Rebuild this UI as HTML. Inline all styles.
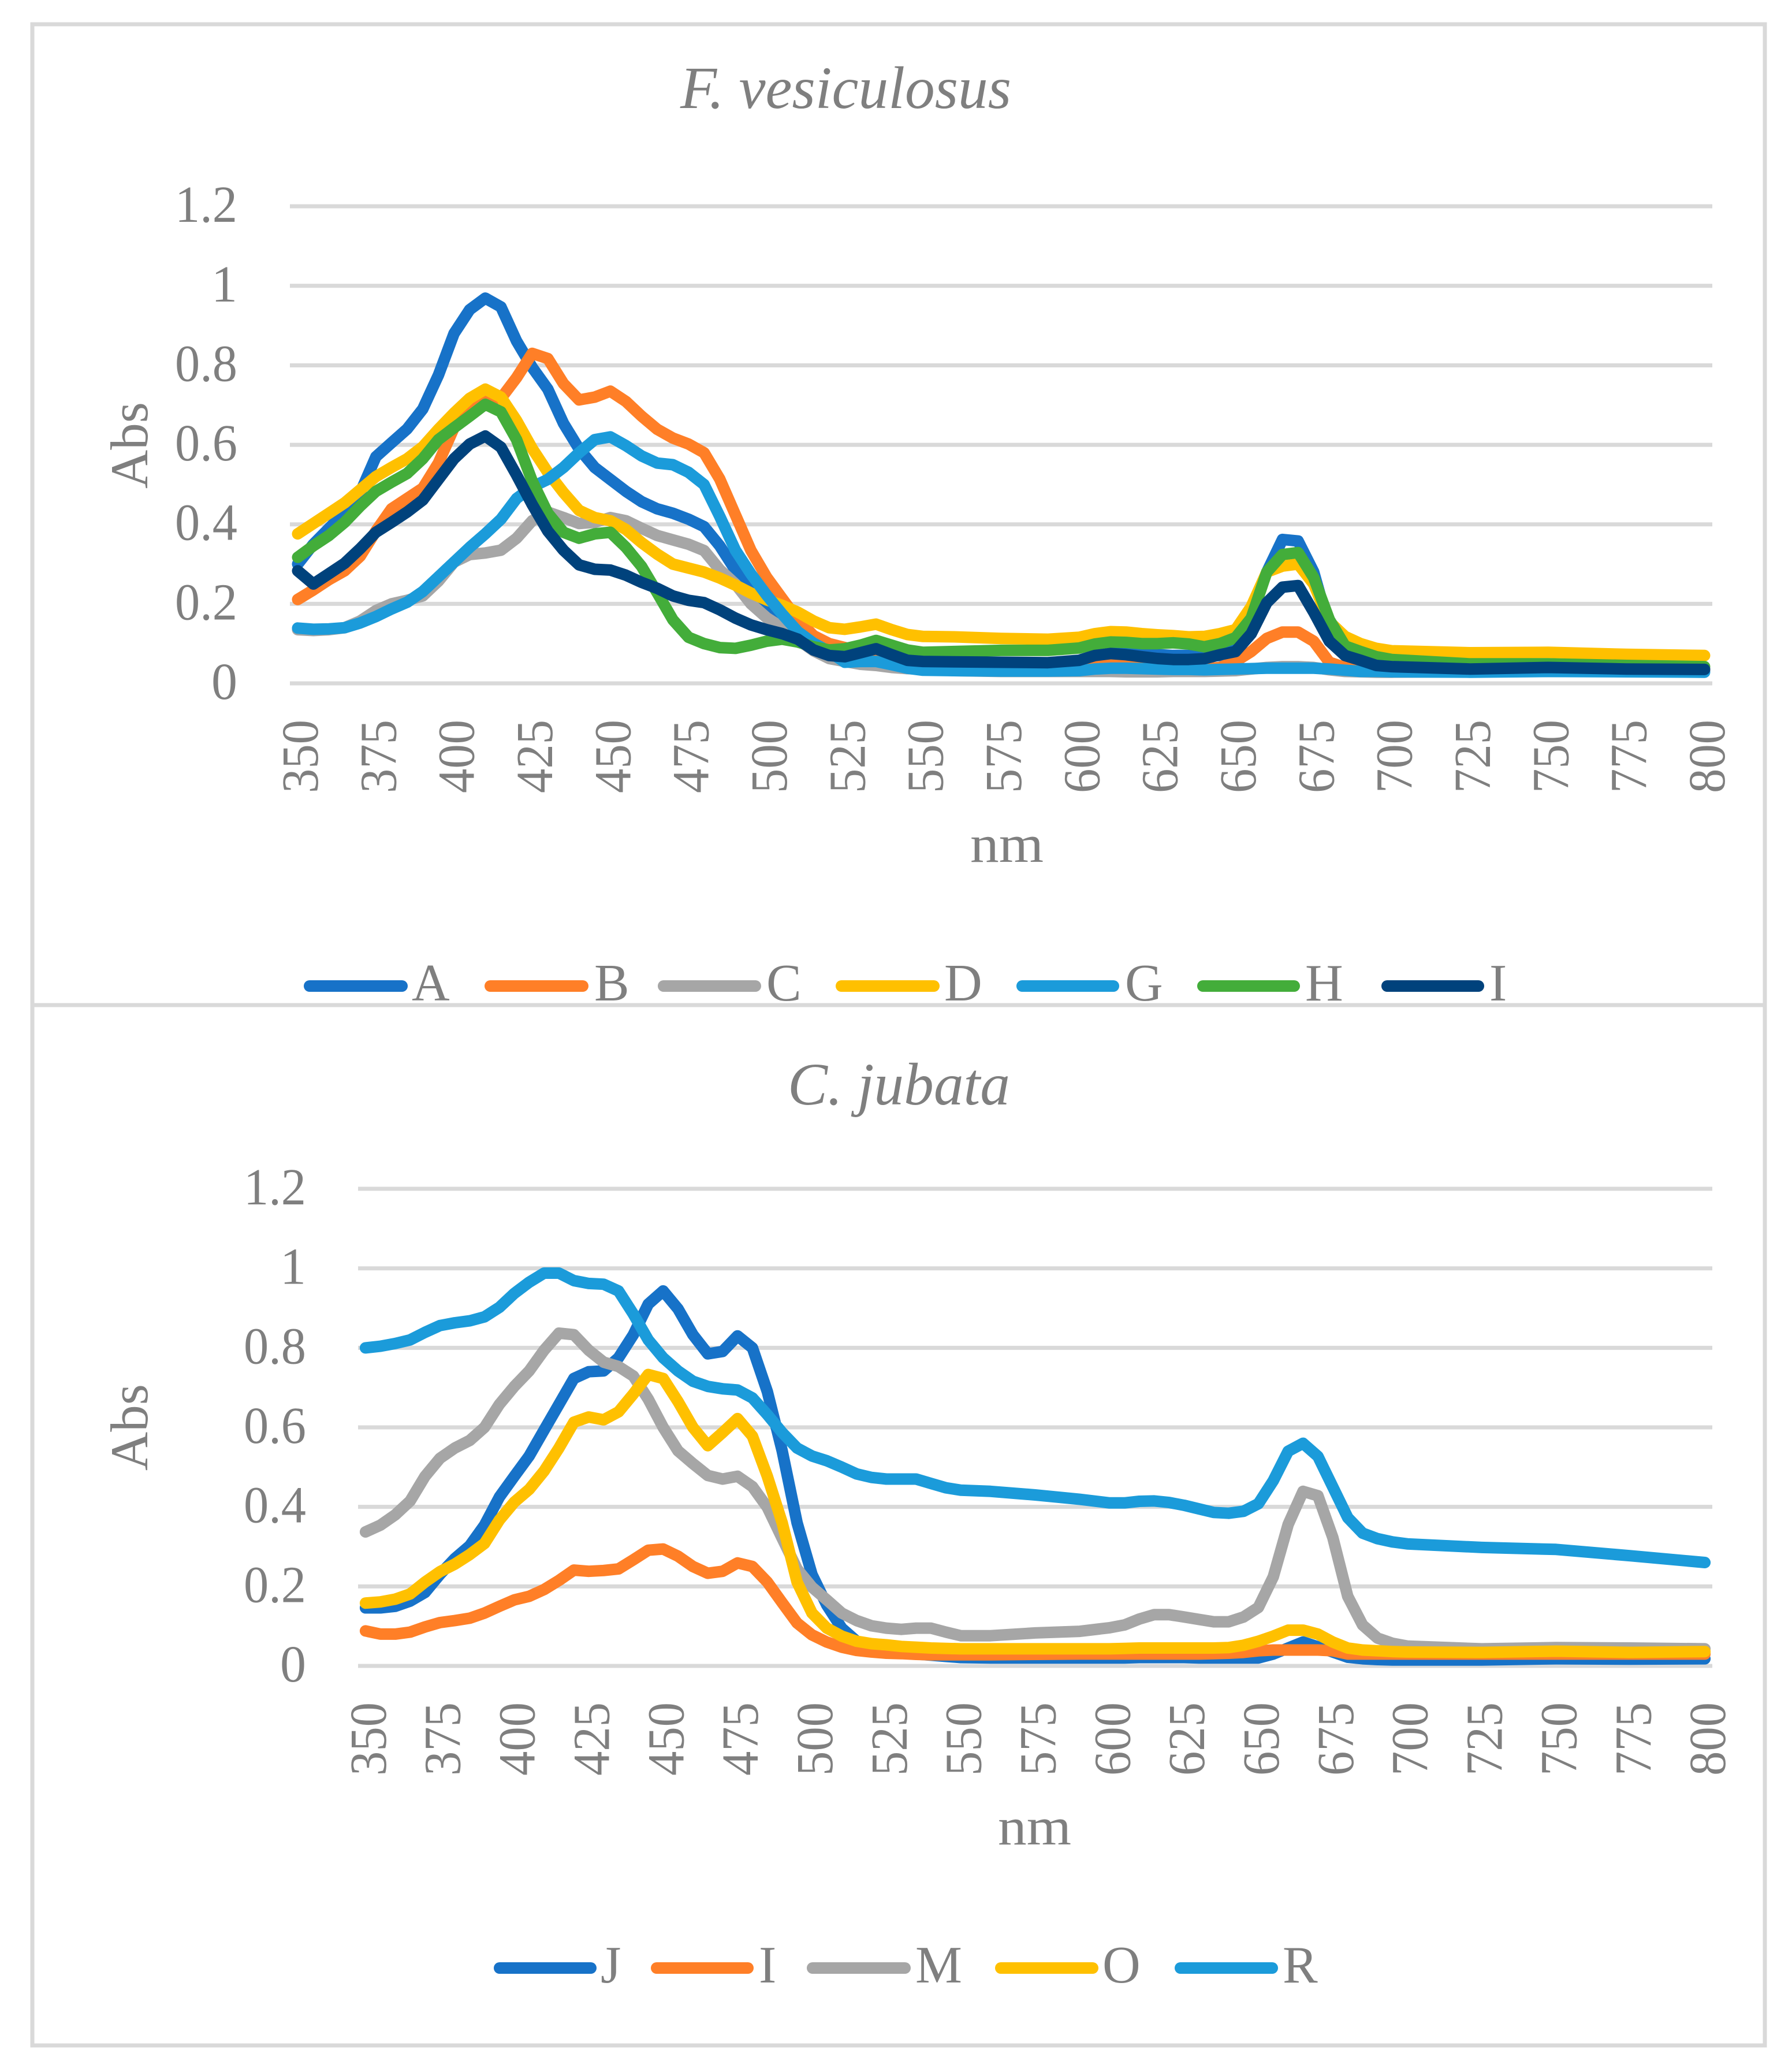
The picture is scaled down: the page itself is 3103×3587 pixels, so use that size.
<!DOCTYPE html>
<html>
<head>
<meta charset="utf-8">
<title>F. vesiculosus and C. jubata absorbance spectra</title>
<style>
html,body{margin:0;padding:0;background:#fff;}
svg{display:block;}
text{font-family:"Liberation Serif",serif;fill:#7f7f7f;}
</style>
</head>
<body>
<svg id="figure" xmlns="http://www.w3.org/2000/svg" width="3103" height="3587" viewBox="0 0 3103 3587">
  <rect x="0" y="0" width="3103" height="3587" fill="#ffffff"/>
  <rect x="56" y="42" width="3000" height="3499" fill="none" stroke="#d9d9d9" stroke-width="7"/>
  <line x1="56" y1="1740" x2="3056" y2="1740" stroke="#d9d9d9" stroke-width="7"/>
  <text x="1178" y="187" font-size="104" font-style="italic" textLength="573" lengthAdjust="spacingAndGlyphs">F. vesiculosus</text>
  <text x="1364" y="1912" font-size="104" font-style="italic" textLength="385" lengthAdjust="spacingAndGlyphs">C. jubata</text>
  <text x="1680" y="1492" font-size="92" textLength="127" lengthAdjust="spacingAndGlyphs">nm</text>
  <text x="1728" y="3193" font-size="92" textLength="127" lengthAdjust="spacingAndGlyphs">nm</text>
  <text transform="translate(255,846) rotate(-90)" font-size="92" textLength="150" lengthAdjust="spacingAndGlyphs">Abs</text>
  <text transform="translate(255,2546) rotate(-90)" font-size="92" textLength="150" lengthAdjust="spacingAndGlyphs">Abs</text>
  <g id="top-chart"></g>
  <g id="bottom-chart"></g>
</svg>
<script>
var wavelengths = [350,355,360,365,370,375,380,385,390,395,400,405,410,415,420,425,430,435,440,445,450,455,460,465,470,475,480,485,490,495,500,505,510,515,520,525,530,535,540,545,550,560,575,590,600,605,610,615,620,625,630,635,640,645,650,655,660,665,670,675,680,685,690,695,700,725,750,775,800];
var xTickLabels = [350,375,400,425,450,475,500,525,550,575,600,625,650,675,700,725,750,775,800];
var yTickValues = [0,0.2,0.4,0.6,0.8,1,1.2];
var yTickLabels = ['0','0.2','0.4','0.6','0.8','1','1.2'];

var seriesA = [.30,.35,.39,.43,.48,.57,.605,.64,.69,.775,.88,.94,.969,.947,.861,.795,.74,.654,.59,.543,.513,.483,.457,.439,.428,.413,.394,.346,.285,.242,.2,.165,.125,.1,.085,.075,.07,.075,.065,.06,.055,.053,.05,.05,.055,.065,.075,.075,.072,.072,.07,.07,.068,.07,.1,.186,.28,.362,.358,.28,.14,.07,.052,.045,.04,.036,.04,.036,.035];
var seriesB = [.211,.235,.261,.283,.32,.383,.439,.465,.491,.554,.643,.695,.717,.717,.769,.83,.817,.754,.713,.72,.735,.709,.672,.639,.617,.602,.58,.514,.424,.334,.267,.213,.16,.12,.1,.09,.08,.08,.065,.058,.055,.052,.05,.05,.04,.044,.048,.045,.04,.038,.037,.037,.036,.04,.055,.08,.113,.129,.129,.106,.053,.04,.038,.036,.036,.034,.036,.034,.034];
var seriesC = [.135,.133,.135,.14,.157,.183,.2,.209,.22,.257,.305,.324,.328,.335,.365,.409,.431,.417,.402,.405,.417,.409,.39,.372,.361,.35,.334,.286,.25,.2,.165,.14,.11,.082,.0625,.055,.048,.045,.04,.037,.036,.032,.03,.03,.03,.03,.03,.029,.029,.029,.03,.03,.03,.031,.032,.036,.04,.042,.042,.04,.034,.03,.029,.028,.028,.029,.03,.03,.031];
var seriesD = [.376,.402,.428,.454,.487,.52,.543,.565,.595,.639,.68,.717,.74,.72,.661,.591,.531,.48,.435,.417,.409,.387,.354,.325,.30,.29,.28,.265,.247,.227,.21,.196,.179,.157,.14,.136,.142,.149,.135,.123,.118,.117,.113,.111,.116,.125,.13,.129,.125,.122,.12,.117,.118,.125,.135,.193,.28,.295,.30,.25,.155,.118,.10,.088,.082,.077,.078,.073,.07];
var seriesG = [.139,.136,.137,.14,.152,.168,.187,.204,.231,.268,.305,.342,.376,.413,.465,.494,.513,.543,.58,.613,.62,.598,.572,.554,.55,.531,.50,.42,.335,.275,.222,.174,.13,.101,.08,.053,.055,.055,.047,.038,.033,.032,.031,.031,.032,.036,.038,.038,.037,.036,.035,.035,.034,.035,.036,.037,.038,.038,.038,.038,.036,.033,.03,.03,.029,.028,.03,.029,.028];
var seriesH = [.317,.346,.372,.405,.446,.483,.506,.528,.565,.613,.643,.672,.702,.683,.613,.509,.428,.38,.365,.376,.38,.342,.294,.228,.16,.116,.1,.09,.088,.096,.106,.111,.104,.092,.084,.087,.096,.108,.096,.084,.078,.08,.083,.083,.089,.099,.104,.103,.1,.1,.102,.099,.092,.10,.115,.164,.28,.324,.329,.266,.16,.094,.08,.067,.06,.049,.049,.045,.042];
var seriesI = [.283,.25,.276,.302,.339,.38,.405,.431,.461,.513,.565,.602,.622,.594,.524,.45,.383,.335,.298,.287,.285,.272,.254,.239,.22,.209,.203,.185,.164,.147,.135,.125,.111,.084,.07,.067,.077,.087,.072,.058,.055,.054,.053,.052,.058,.07,.075,.072,.067,.0625,.06,.06,.062,.072,.08,.125,.203,.242,.246,.179,.106,.07,.058,.045,.042,.036,.04,.036,.035];

var seriesJ = [.146,.146,.15,.163,.185,.23,.27,.302,.354,.425,.477,.528,.593,.658,.723,.74,.742,.775,.833,.91,.943,.898,.833,.785,.791,.83,.80,.69,.541,.36,.23,.153,.095,.062,.043,.036,.032,.03,.027,.024,.021,.02,.02,.02,.02,.02,.021,.021,.021,.021,.02,.02,.02,.02,.02,.03,.045,.06,.048,.035,.022,.018,.016,.015,.015,.015,.018,.017,.018];
var seriesL = [.088,.08,.08,.085,.098,.109,.114,.12,.133,.15,.166,.175,.192,.215,.241,.238,.24,.244,.267,.291,.294,.276,.25,.233,.238,.259,.25,.211,.159,.108,.078,.06,.047,.039,.035,.032,.031,.029,.028,.028,.028,.028,.029,.03,.03,.03,.03,.03,.03,.03,.03,.031,.032,.034,.038,.04,.04,.04,.04,.038,.03,.03,.03,.03,.03,.03,.03,.03,.03];
var seriesM = [.337,.354,.38,.415,.477,.522,.548,.567,.6,.658,.703,.742,.794,.837,.833,.794,.764,.753,.729,.671,.6,.541,.509,.479,.47,.477,.451,.399,.321,.244,.198,.166,.133,.114,.101,.095,.092,.095,.095,.085,.076,.076,.083,.087,.096,.103,.118,.129,.129,.123,.117,.111,.111,.123,.147,.224,.356,.439,.428,.323,.175,.103,.07,.057,.05,.043,.046,.045,.043];
var seriesO = [.158,.161,.168,.181,.211,.237,.256,.28,.308,.367,.412,.444,.49,.548,.613,.626,.619,.639,.684,.733,.723,.665,.6,.554,.587,.622,.578,.477,.36,.211,.133,.095,.075,.062,.056,.053,.049,.047,.045,.044,.043,.043,.043,.043,.043,.044,.045,.045,.045,.045,.045,.045,.046,.052,.062,.075,.09,.09,.08,.06,.045,.04,.038,.036,.035,.034,.037,.034,.036];
var seriesR = [.8,.804,.811,.82,.839,.856,.863,.868,.878,.902,.937,.965,.988,.988,.969,.962,.96,.943,.885,.82,.775,.742,.716,.703,.697,.694,.674,.632,.587,.548,.528,.516,.5,.483,.474,.47,.47,.47,.459,.448,.442,.439,.43,.419,.41,.41,.414,.415,.411,.404,.395,.386,.384,.389,.408,.466,.54,.56,.527,.45,.373,.334,.32,.312,.307,.298,.293,.277,.26];

var topNames = ['A','B','C','D','G','H','I'];
var bottomNames = ['J','I','M','O','R'];
var topSeries = [seriesA,seriesB,seriesC,seriesD,seriesG,seriesH,seriesI];
var bottomSeries = [seriesJ,seriesL,seriesM,seriesO,seriesR];

var NS = 'http://www.w3.org/2000/svg';
function mk(parent, tag, attrs, txt){
  var el = document.createElementNS(NS, tag);
  for (var k in attrs) el.setAttribute(k, attrs[k]);
  if (txt !== undefined) el.textContent = txt;
  parent.appendChild(el);
  return el;
}
function drawChart(host, cfg, names, series){
  var plotW = cfg.right - cfg.left;
  var step = plotW / 91;
  function xScale(nm){ return cfg.left + step/2 + (nm-350)/5*step; }
  function yScale(v){ return cfg.zero - v*cfg.unit; }

  yTickValues.forEach(function(v,i){
    var g = mk(host,'line',{x1:cfg.left,x2:cfg.right,y1:yScale(v),y2:yScale(v),stroke:'#d9d9d9','stroke-width':7});
    
    
    var attrs = {x:cfg.yLabelX,y:yScale(v)+27,'font-size':90,'text-anchor':'end'};
    if (yTickLabels[i].length > 1) { attrs.textLength = 108; attrs.lengthAdjust = 'spacingAndGlyphs'; }
    var t = mk(host,'text',attrs,yTickLabels[i]);
    
    
  });
  xTickLabels.forEach(function(nm){
    var bx = xScale(nm)+cfg.xLabelOff;
    var t = mk(host,'text',{transform:'translate('+bx+','+cfg.xLabelTop+') rotate(-90)','font-size':90,'text-anchor':'end',textLength:127,lengthAdjust:'spacingAndGlyphs'},String(nm));
    
    
  });
  series.forEach(function(vals,i){
    var pts = vals.map(function(v,j){ return xScale(wavelengths[j]).toFixed(1)+','+yScale(v).toFixed(1); }).join(' ');
    var p = mk(host,'polyline',{points:pts,fill:'none',stroke:cfg.colors[i],'stroke-width':20,'stroke-linejoin':'round','stroke-linecap':'round'});
    
    
  });
  names.forEach(function(n,i){
    var L = cfg.legendLines[i];
    var l = mk(host,'line',{x1:L[0]+10,x2:L[1]-10,y1:cfg.legendY,y2:cfg.legendY,stroke:cfg.colors[i],'stroke-width':20,'stroke-linecap':'round'});
    
    
    var t = mk(host,'text',{x:L[2],y:cfg.legendY+25,'font-size':91},n);
    
    
  });
}
var topColors = ['#1772c8','#ff7f27','#a6a6a6','#ffc000','#1b9bda','#43ad3a','#00427c'];
var bottomColors = ['#1772c8','#ff7f27','#a6a6a6','#ffc000','#1b9bda'];
drawChart(document.getElementById('top-chart'),{
  left:502,right:2965,zero:1183,unit:688.2,yLabelX:411,xLabelOff:34.5,xLabelTop:1246,colors:topColors,legendY:1707,
  legendLines:[[526,706,713],[839,1019,1029],[1139,1318,1327],[1447,1627,1635],[1760,1938,1948],[2073,2251,2260],[2392,2570,2579]]
},topNames,topSeries);
drawChart(document.getElementById('bottom-chart'),{
  left:620,right:2965,zero:2884,unit:688.3,yLabelX:530,xLabelOff:35,xLabelTop:2947,colors:bottomColors,legendY:3407,
  legendLines:[[855,1033,1040],[1127,1305,1314],[1397,1577,1585],[1723,1902,1909],[2034,2213,2221]]
},bottomNames,bottomSeries);
</script>
</body>
</html>
